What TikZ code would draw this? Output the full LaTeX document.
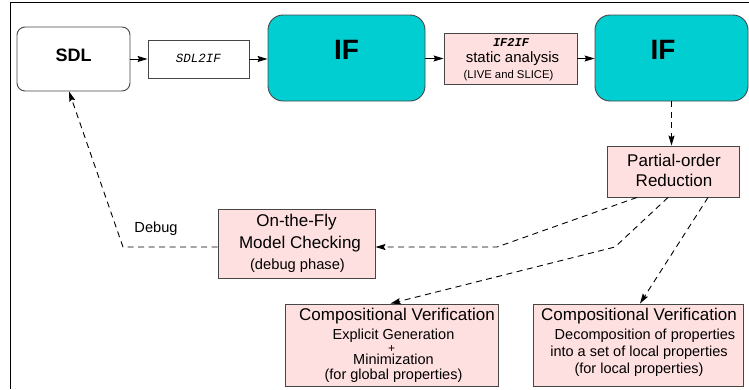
\documentclass[tikz,border=0pt]{standalone}
\usepackage{fontspec}
\setmainfont{Liberation Sans}
\setmonofont{Liberation Mono}
\usetikzlibrary{arrows.meta,calc}
\definecolor{ifteal}{RGB}{0,206,209}
\definecolor{boxpink}{RGB}{255,224,224}
\definecolor{boxedge}{RGB}{70,70,70}
\newcommand{\fs}[1]{\fontsize{#1}{#1}\selectfont}
\begin{document}
\begin{tikzpicture}[x=1pt,y=-1pt,
  boxbase/.style={draw=boxedge, line width=0.9pt, inner sep=0pt},
  sdlbox/.style={boxbase, fill=white, rounded corners=8pt},
  tealbox/.style={boxbase, fill=ifteal, rounded corners=15pt, minimum width=155pt, minimum height=86pt},
  plainbox/.style={boxbase, fill=white},
  pinkbox/.style={boxbase, fill=boxpink},
  txt/.style={inner sep=0pt, text height=0.72em, text depth=0pt, anchor=center},
  conn/.style={line width=0.9pt, -{Stealth[length=10pt,width=6pt,inset=1.5pt]}},
  dconn/.style={line width=0.9pt, dash pattern=on 6pt off 4.5pt, -{Stealth[length=10pt,width=6pt,inset=1.5pt]}}]
\useasboundingbox (0,0) rectangle (749,389);
\draw[line width=0.9pt] (10,389) -- (10,2) -- (749,2);

% top row
\node[sdlbox, minimum width=113pt, minimum height=64pt] (sdl) at (73.5,59) {};
\node[txt] (sdlt) at (73.5,58) {\fs{18}\bfseries SDL};
\node[plainbox, minimum width=101pt, minimum height=38pt] (s2i) at (198.5,59) {};
\node[txt] (s2it) at (198.5,59) {\fs{12.5}\ttfamily\itshape SDL2IF};
\node[tealbox, minimum width=157pt] (if1) at (346.5,58) {};
\node[txt] (if1t) at (346.5,56) {\fs{28}\bfseries IF};
\node[pinkbox, minimum width=133pt, minimum height=51pt] (i2i) at (510.5,58.5) {};
\node[txt] (i2it1) at (511,43) {\fs{12}\ttfamily\bfseries\itshape IF2IF};
\node[txt] (i2it2) at (512.5,59) {\fs{15}static analysis};
\node[txt] (i2it3) at (508.5,75) {\fs{11.3}(LIVE and SLICE)};
\node[tealbox, minimum width=153pt] (if2) at (671.5,58) {};
\node[txt] (if2t) at (663,56) {\fs{28}\bfseries IF};

% partial order
\node[pinkbox, minimum width=132pt, minimum height=51pt] (po) at (673,171.5) {};
\node[txt] (pot1) at (674,163) {\fs{17}Partial-order};
\node[txt] (pot2) at (674,183) {\fs{17}Reduction};

% on the fly
\node[pinkbox, minimum width=157pt, minimum height=69pt] (otf) at (296.5,243.5) {};
\node[txt] (otft1) at (296.5,223) {\fs{17}On-the-Fly};
\node[txt] (otft2) at (300,245) {\fs{17}Model Checking};
\node[txt] (otft3) at (297.5,266) {\fs{14.7}(debug phase)};

% compositional boxes
\node[pinkbox, minimum width=213pt, minimum height=82pt] (cv1) at (391.5,345) {};
\node[txt] (cv1t1) at (397,317) {\fs{17}Compositional Verification};
\node[txt] (cv1t2) at (393.5,336) {\fs{14.5}Explicit Generation};
\node[txt] (cv1t3) at (391.5,348.5) {\fs{12}+};
\node[txt] (cv1t4) at (393.5,361) {\fs{14.5}Minimization};
\node[txt] (cv1t5) at (393.5,376) {\fs{14.5}(for global properties)};

\node[pinkbox, minimum width=210pt, minimum height=82pt] (cv2) at (638,345) {};
\node[txt] (cv2t1) at (639,317) {\fs{17}Compositional Verification};
\node[txt] (cv2t2) at (645,336) {\fs{14.5}Decomposition of properties};
\node[txt] (cv2t3) at (639,353) {\fs{14.5}into a set of local properties};
\node[txt] (cv2t4) at (639,370) {\fs{14.5}(for local properties)};

% solid connectors
\draw[conn] (sdl.east) -- (s2i.west);
\draw[conn] (s2i.east) -- (s2i.east -| if1.west);
\draw[conn] (if1.east |- i2i.west) -- (i2i.west);
\draw[conn] (i2i.east) -- (i2i.east -| if2.west);

% dashed connectors
\coordinate (b1) at (497,247);
\coordinate (b2) at (615,247);
\coordinate (b3) at (123,247);
\draw[dconn] (if2.south) -- (if2.south |- po.north);
\draw[dconn] ([xshift=-36pt]po.south) -- (b1) -- (b1 -| otf.east);
\draw[dconn] ([xshift=-5pt]po.south) -- (b2) -- ([xshift=-1pt]cv1.north);
\draw[dconn] ([xshift=35pt]po.south) -- ([xshift=2pt]cv2.north);
\draw[dconn] (b3 -| otf.west) -- (b3) -- ([xshift=-4.5pt]sdl.south);
\node[txt] (dbg) at (156,229) {\fs{14.6}Debug};
\end{tikzpicture}
\end{document}
